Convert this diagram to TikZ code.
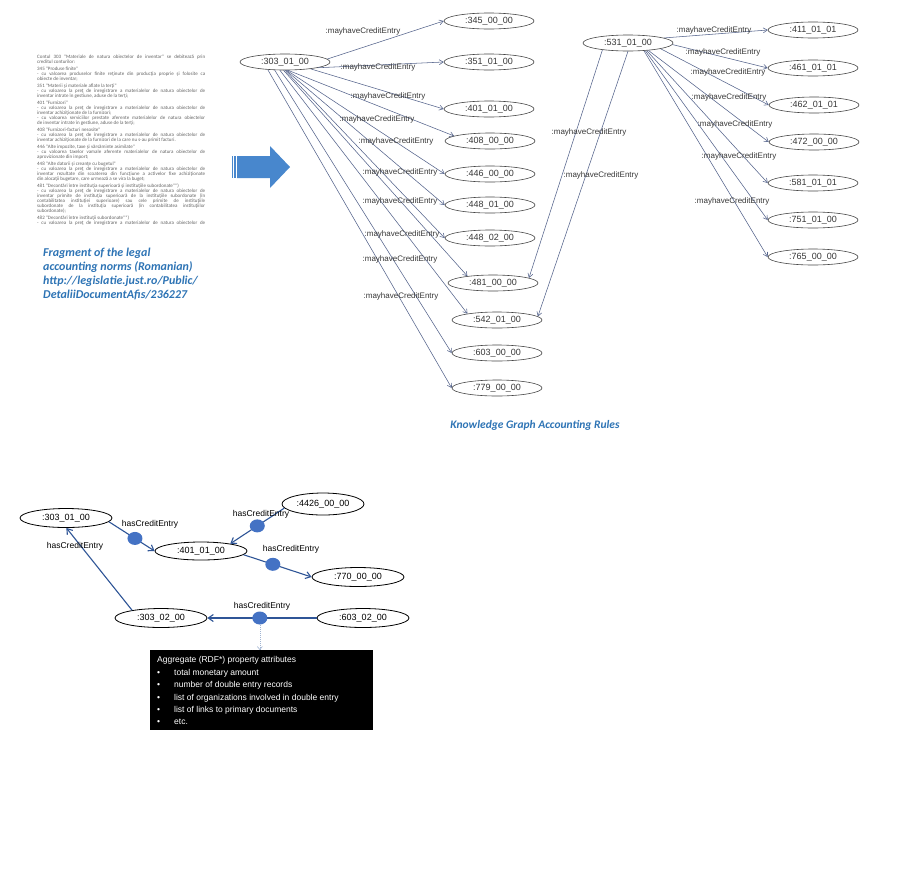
\documentclass[tikz,border=0pt]{standalone}
\usepackage{fontspec}
\setmainfont{Liberation Sans}
\newfontfamily\carl{Carlito}
\usetikzlibrary{shapes.geometric,arrows.meta,calc}
\definecolor{kgline}{RGB}{85,100,140}
\definecolor{kgtext}{RGB}{55,55,55}
\definecolor{kgell}{RGB}{70,70,70}
\definecolor{capblue}{RGB}{46,116,181}
\definecolor{arrowblue}{RGB}{72,135,205}
\definecolor{dotblue}{RGB}{68,114,196}
\definecolor{edgeblue}{RGB}{47,85,151}
\definecolor{rotext}{RGB}{100,100,100}
\definecolor{dotline}{RGB}{160,180,210}
\newcommand{\RoJ}[1]{\makebox[168pt][s]{#1}}
\tikzset{
  kgnode/.style={ellipse, draw=kgell, line width=0.6pt, minimum width=90pt, minimum height=16pt, inner sep=0pt, font=\fontsize{9}{10}\selectfont, text=kgtext},
  kgedge/.style={draw=kgline, line width=0.55pt, -{Straight Barb[length=4pt,width=5pt]}},
  kglab/.style={font=\fontsize{8}{9}\selectfont, text=kgtext, inner sep=0pt},
  bnode/.style={ellipse, draw=black, line width=0.8pt, minimum width=92pt, minimum height=19pt, inner sep=0pt, font=\fontsize{9}{10}\selectfont},
  bedge/.style={draw=edgeblue, line width=1.1pt, -{Straight Barb[length=5pt,width=7pt]}},
  bdot/.style={ellipse, fill=dotblue, minimum width=15pt, minimum height=13pt, inner sep=0pt},
  blab/.style={font=\fontsize{8.5}{10}\selectfont, inner sep=0pt},
  boxtxt/.style={font=\fontsize{8.5}{10}\selectfont, text=white, inner sep=0pt, anchor=base west},
}
\begin{document}
\begin{tikzpicture}[x=1pt,y=-1pt]
\useasboundingbox[fill=white] (0,0) rectangle (901,884);

% ---------- legal norms fragment ----------
\node[anchor=north west, inner sep=0pt, text=rotext, font=\carl\fontsize{5}{5}\selectfont, align=left] (norms) at (37,54.5) {%
\RoJ{Contul 303 "Materiale de natura obiectelor de inventar" se debitează prin}\\
creditul conturilor:\\[2pt]
345 "Produse finite"\\
\RoJ{- cu valoarea produselor finite reţinute din producţia proprie şi folosite ca}\\
obiecte de inventar;\\[2pt]
351 "Materii şi materiale aflate la terţi"\\
\RoJ{- cu valoarea la preţ de înregistrare a materialelor de natura obiectelor de}\\
inventar intrate în gestiune, aduse de la terţi;\\[2pt]
401 "Furnizori"\\
\RoJ{- cu valoarea la preţ de înregistrare a materialelor de natura obiectelor de}\\
inventar achiziţionate de la furnizori;\\
\RoJ{- cu valoarea serviciilor prestate aferente materialelor de natura obiectelor}\\
de inventar intrate în gestiune, aduse de la terţi;\\[2pt]
408 "Furnizori-facturi nesosite"\\
\RoJ{- cu valoarea la preţ de înregistrare a materialelor de natura obiectelor de}\\
inventar achiziţionate de la furnizori de la care nu s-au primit facturi.\\[2pt]
446 "Alte impozite, taxe şi vărsăminte asimilate"\\
\RoJ{- cu valoarea taxelor vamale aferente materialelor de natura obiectelor de}\\
aprovizionate din import;\\[2pt]
448 "Alte datorii şi creanţe cu bugetul"\\
\RoJ{- cu valoarea la preţ de înregistrare a materialelor de natura obiectelor de}\\
\RoJ{inventar rezultate din scoaterea din funcţiune a activelor fixe achiziţionate}\\
din alocaţii bugetare, care urmează a se vira la buget;\\[2pt]
481 "Decontări între instituţia superioară şi instituţiile subordonate"*)\\
\RoJ{- cu valoarea la preţ de înregistrare a materialelor de natura obiectelor de}\\
\RoJ{inventar primite de instituţia superioară de la instituţiile subordonate (în}\\
\RoJ{contabilitatea instituţiei superioare) sau cele primite de instituţiile}\\
\RoJ{subordonate de la instituţia superioară (în contabilitatea instituţiilor}\\
subordonate);\\[2pt]
482 "Decontări între instituţii subordonate"*)\\
\RoJ{- cu valoarea la preţ de înregistrare a materialelor de natura obiectelor de}};

\node[anchor=north west, inner sep=0pt, text=capblue, font=\carl\bfseries\itshape\fontsize{12}{14}\selectfont, align=left] (normcap) at (43,247.5) {Fragment of the legal\\accounting norms (Romanian)\\http://legislatie.just.ro/Public/\\DetaliiDocumentAfis/236227};

% ---------- big arrow ----------
\fill[arrowblue] (237,156) -- (270,156) -- (270,146) -- (290,167) -- (270,188) -- (270,178) -- (237,178) -- cycle;
\fill[arrowblue] (231.5,156) rectangle (233,178);
\fill[arrowblue] (234.2,156) rectangle (236,178);

% ---------- knowledge graph nodes ----------
\node[kgnode] (t303) at (285,62) {:303\_01\_00};
\node[kgnode] (t345) at (489,21) {:345\_00\_00};
\node[kgnode] (t351) at (489,62) {:351\_01\_00};
\node[kgnode] (t401) at (489,109) {:401\_01\_00};
\node[kgnode] (t408) at (490,141) {:408\_00\_00};
\node[kgnode] (t446) at (490,174) {:446\_00\_00};
\node[kgnode] (t448a) at (490,205) {:448\_01\_00};
\node[kgnode] (t448b) at (490,238) {:448\_02\_00};
\node[kgnode] (t481) at (493,283) {:481\_00\_00};
\node[kgnode] (t542) at (497,320) {:542\_01\_00};
\node[kgnode] (t603) at (497,353) {:603\_00\_00};
\node[kgnode] (t779) at (497,388) {:779\_00\_00};
\node[kgnode] (t531) at (628,43) {:531\_01\_00};
\node[kgnode] (t411) at (813,30) {:411\_01\_01};
\node[kgnode] (t461) at (813,68) {:461\_01\_01};
\node[kgnode] (t462) at (814,105) {:462\_01\_01};
\node[kgnode] (t472) at (814,142) {:472\_00\_00};
\node[kgnode] (t581) at (813,183) {:581\_01\_01};
\node[kgnode] (t751) at (813,220) {:751\_01\_00};
\node[kgnode] (t765) at (813,257) {:765\_00\_00};

% edges from 303_01_00
\draw[kgedge] (t303.4) -- (t345.west);
\draw[kgedge] (t303.-10) -- (t351.west);
\draw[kgedge] (t303.-15) -- (t401.west);
\draw[kgedge] (t303.-70) -- (t408.172);
\draw[kgedge] (t303.-78) -- (t446.west);
\draw[kgedge] (t303.-84) -- (t448a.west);
\draw[kgedge] (t303.-90) -- (t448b.west);
\draw[kgedge] (t303.-100) -- (t481.165);
\draw[kgedge] (t303.-122) -- (t542.168);
\draw[kgedge] (t303.-142) -- (t603.west);
\draw[kgedge] (t303.-156) -- (t779.west);
% edges from 531_01_00
\draw[kgedge] (t531.-165) -- (t481.8);
\draw[kgedge] (t531.-90) -- (t542.5);
\draw[kgedge] (t531.8) -- (t411.west);
\draw[kgedge] (t531.-2) -- (t461.west);
\draw[kgedge] (t531.-10) -- (t462.west);
\draw[kgedge] (t531.-20) -- (t472.west);
\draw[kgedge] (t531.-22) -- (t581.west);
\draw[kgedge] (t531.-24) -- (t751.west);
\draw[kgedge] (t531.-26) -- (t765.west);

% edge labels
\node[kglab] (la1) at (363,31) {:mayhaveCreditEntry};
\node[kglab] (la2) at (378,67) {:mayhaveCreditEntry};
\node[kglab] (la3) at (388,96) {:mayhaveCreditEntry};
\node[kglab] (la4) at (377,119) {:mayhaveCreditEntry};
\node[kglab] (la5) at (396,141) {:mayhaveCreditEntry};
\node[kglab] (la6) at (400,172) {:mayhaveCreditEntry};
\node[kglab] (la7) at (400,201) {:mayhaveCreditEntry};
\node[kglab] (la8) at (402,234) {:mayhaveCreditEntry};
\node[kglab] (la9) at (400,259) {:mayhaveCreditEntry};
\node[kglab] (la10) at (401,296) {:mayhaveCreditEntry};
\node[kglab] (lb1) at (589,132) {:mayhaveCreditEntry};
\node[kglab] (lb2) at (601,175) {:mayhaveCreditEntry};
\node[kglab] (lb3) at (714,30) {:mayhaveCreditEntry};
\node[kglab] (lb4) at (723,52) {:mayhaveCreditEntry};
\node[kglab] (lb5) at (728,72) {:mayhaveCreditEntry};
\node[kglab] (lb6) at (729,97) {:mayhaveCreditEntry};
\node[kglab] (lb7) at (735,124) {:mayhaveCreditEntry};
\node[kglab] (lb8) at (739,156) {:mayhaveCreditEntry};
\node[kglab] (lb9) at (732,201) {:mayhaveCreditEntry};

\node[text=capblue, font=\carl\bfseries\itshape\fontsize{11.5}{13}\selectfont, inner sep=0pt] (kgcap) at (535,425) {Knowledge Graph Accounting Rules};

% ---------- bottom diagram ----------
\node[bnode] (b303a) at (66,518) {:303\_01\_00};
\node[bnode, minimum width=82pt, minimum height=22pt] (b4426) at (323,504) {:4426\_00\_00};
\node[bnode, minimum height=18pt] (b401) at (201,551) {:401\_01\_00};
\node[bnode] (b770) at (358,577) {:770\_00\_00};
\node[bnode] (b303b) at (161,618) {:303\_02\_00};
\node[bnode] (b603) at (363,618) {:603\_02\_00};

\draw[bedge] (b303a.-5) -- node[bdot, pos=0.57] (d1) {} (b401.west);
\draw[bedge] (b4426.186) -- node[bdot, pos=0.5] (d2) {} (b401.14);
\draw[bedge] (b401.-5) -- node[bdot, pos=0.43] (d3) {} (b770.west);
\draw[bedge] (b603.west) -- node[bdot, pos=0.52] (d4) {} (b303b.east);
\draw[bedge] (b303b.165) -- (b303a.-88);

\node[blab] (bl1) at (150,524) {hasCreditEntry};
\node[blab] (bl2) at (261,514) {hasCreditEntry};
\node[blab] (bl3) at (291,549) {hasCreditEntry};
\node[blab] (bl4) at (262,606) {hasCreditEntry};
\node[blab] (bl5) at (75,546) {hasCreditEntry};

\node[fill=black, minimum width=223pt, minimum height=80pt, inner sep=0pt, anchor=north west] (aggbox) at (150,650) {};
\draw[draw=dotline, line width=0.6pt, dash pattern=on 1pt off 1pt, -{Straight Barb[length=3pt,width=5pt]}] (d4.south) -- (d4.south |- aggbox.north);
\node[boxtxt] (bt0) at (157,662) {Aggregate (RDF*) property attributes};
\node[boxtxt] (bb1) at (157,675) {•};
\node[boxtxt] (bt1) at (174,675) {total monetary amount};
\node[boxtxt] (bb2) at (157,687) {•};
\node[boxtxt] (bt2) at (174,687) {number of double entry records};
\node[boxtxt] (bb3) at (157,700) {•};
\node[boxtxt] (bt3) at (174,700) {list of organizations involved in double entry};
\node[boxtxt] (bb4) at (157,712) {•};
\node[boxtxt] (bt4) at (174,712) {list of links to primary documents};
\node[boxtxt] (bb5) at (157,724) {•};
\node[boxtxt] (bt5) at (174,724) {etc.};
\end{tikzpicture}
\end{document}
